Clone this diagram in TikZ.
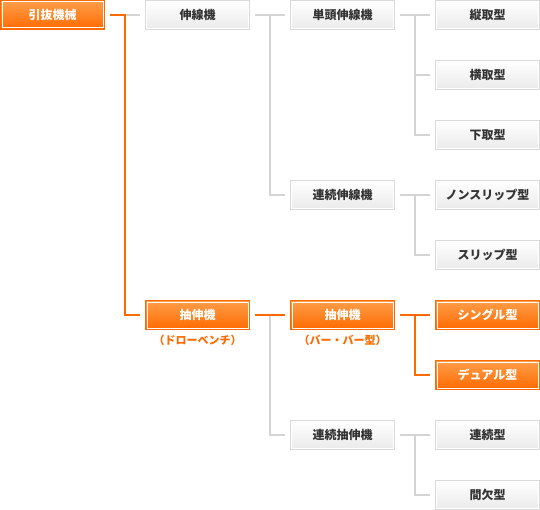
\documentclass[tikz,border=0pt]{standalone}
\usepackage{fontspec}
\setmainfont{Noto Sans CJK JP}
\definecolor{org}{HTML}{FF6A00}
\definecolor{orgtop}{HTML}{FF9E4A}
\definecolor{glin}{HTML}{D4D4D4}
\definecolor{gbor}{HTML}{D9D9D9}
\definecolor{gbot}{HTML}{EAEAEA}
\definecolor{txt}{HTML}{333333}
\tikzset{
  box/.style={minimum width=104pt, minimum height=29pt, inner sep=0pt,
    font=\fontsize{12pt}{14pt}\selectfont\bfseries},
  graybox/.style={box, draw=gbor, line width=1pt, top color=white, bottom color=gbot, text=txt,
    path picture={\draw[white,line width=1pt]
      ([shift={(1pt,-1pt)}]path picture bounding box.north west) rectangle
      ([shift={(-1pt,1pt)}]path picture bounding box.south east);}},
  orangebox/.style={box, draw=org, line width=1pt, top color=orgtop, bottom color=org, text=white,
    path picture={\draw[white,line width=1pt]
      ([shift={(1.5pt,-1.5pt)}]path picture bounding box.north west) rectangle
      ([shift={(-1.5pt,1.5pt)}]path picture bounding box.south east);}},
  gline/.style={draw=glin, line width=2pt},
  oline/.style={draw=org, line width=2pt},
  sublabel/.style={text=org, font=\fontsize{11pt}{13pt}\selectfont\bfseries, inner sep=0pt}
}
\begin{document}
\begin{tikzpicture}[x=1pt,y=-1pt]
\useasboundingbox (0,0) rectangle (540,510);
% column centers: 52.5, 197.5, 342.5, 487.5 ; rows 15 + 60k
\node[orangebox] (root) at (52.5,15) {引抜機械};
\node[graybox] (sen) at (197.5,15) {伸線機};
\node[orangebox] (chu) at (197.5,315) {抽伸機};
\node[sublabel] (chulab) at (197.5,340.5) {（ドローベンチ）};
\node[graybox] (tan) at (342.5,15) {単頭伸線機};
\node[graybox] (rensen) at (342.5,195) {連続伸線機};
\node[orangebox] (chu2) at (342.5,315) {抽伸機};
\node[sublabel] (chu2lab) at (342.5,340.5) {（バー・バー型）};
\node[graybox] (renchu) at (342.5,435) {連続抽伸機};
\node[graybox] (tate) at (487.5,15) {縦取型};
\node[graybox] (yoko) at (487.5,75) {横取型};
\node[graybox] (shita) at (487.5,135) {下取型};
\node[graybox] (non) at (487.5,195) {ノンスリップ型};
\node[graybox] (slip) at (487.5,255) {スリップ型};
\node[orangebox] (single) at (487.5,315) {シングル型};
\node[orangebox] (dual) at (487.5,375) {デュアル型};
\node[graybox] (renzoku) at (487.5,435) {連続型};
\node[graybox] (kanketsu) at (487.5,495) {間欠型};
% junction coordinates
\coordinate (j1) at (125,15);
\coordinate (j2) at (270,15);
\coordinate (j3) at (415,15);
\coordinate (j4) at (415,195);
\coordinate (j5) at (270,315);
\coordinate (j6) at (415,315);
\coordinate (j7) at (415,435);
% gray connectors
\draw[gline] (j1) -- ([xshift=-5pt]sen.west);
\draw[gline] ([xshift=5pt]sen.east) -- ([xshift=-5pt]tan.west);
\draw[gline] (j2) |- ([xshift=-5pt]rensen.west);
\draw[gline] ([xshift=5pt]tan.east) -- ([xshift=-5pt]tate.west);
\draw[gline] (j3) |- ([xshift=-5pt]yoko.west);
\draw[gline] (j3) |- ([xshift=-5pt]shita.west);
\draw[gline] ([xshift=5pt]rensen.east) -- ([xshift=-5pt]non.west);
\draw[gline] (j4) |- ([xshift=-5pt]slip.west);
\draw[gline] (j5) |- ([xshift=-5pt]renchu.west);
\draw[gline] ([xshift=5pt]renchu.east) -- ([xshift=-5pt]renzoku.west);
\draw[gline] (j7) |- ([xshift=-5pt]kanketsu.west);
% orange connectors
\draw[oline] ([xshift=5pt]root.east) -- ([xshift=1pt]j1);
\draw[oline] (j1) |- ([xshift=-5pt]chu.west);
\draw[oline] ([xshift=5pt]chu.east) -- ([xshift=-5pt]chu2.west);
\draw[oline] ([xshift=5pt]chu2.east) -- ([xshift=-5pt]single.west);
\draw[oline] (j6) |- ([xshift=-5pt]dual.west);
\end{tikzpicture}
\end{document}
